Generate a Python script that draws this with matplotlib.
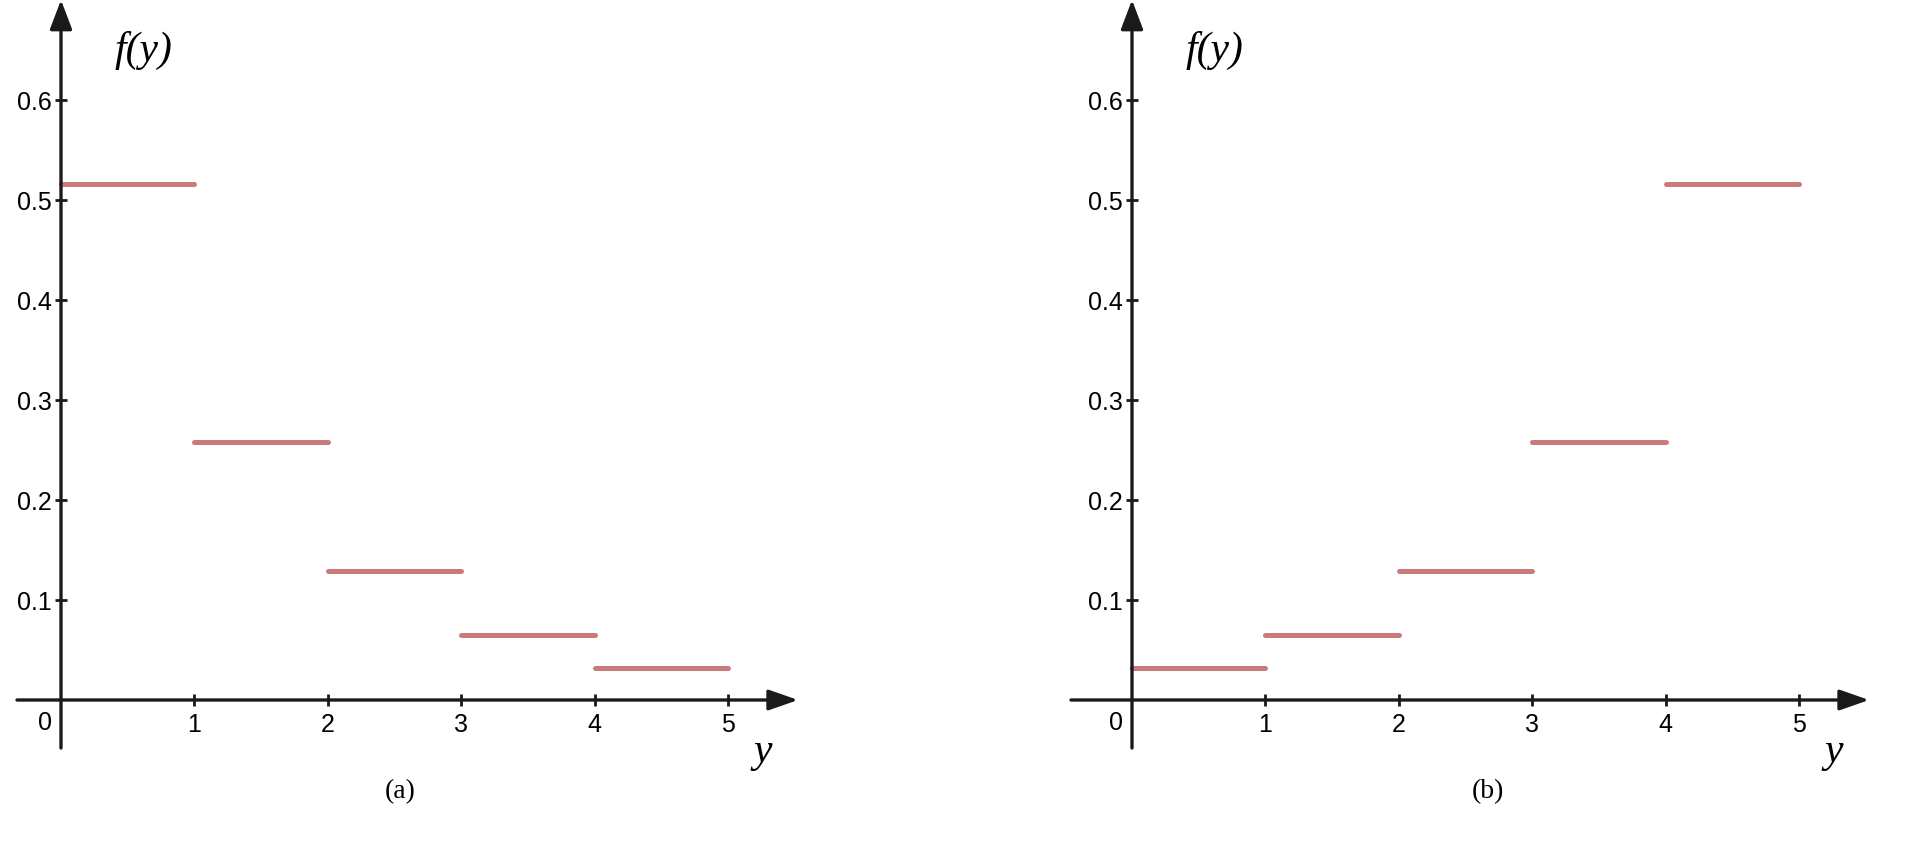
import matplotlib.pyplot as plt

# datos: densidad escalonada en cada intervalo [k, k+1)
x_inicio = [0, 1, 2, 3, 4]
x_fin = [1, 2, 3, 4, 5]
f_a = [16/31, 8/31, 4/31, 2/31, 1/31]
f_b = [1/31, 2/31, 4/31, 8/31, 16/31]
yticks = [0.1, 0.2, 0.3, 0.4, 0.5, 0.6]
xticks = [1, 2, 3, 4, 5]
paneles = ['(a)', '(b)']

W, H = 1909, 844
fig = plt.figure(figsize=(W / 100, H / 100), dpi=100)

rojo = '#c97b7b'
negro = '#1a1a1a'
px_x = 133.4   # pixeles por unidad en x
px_y = 1000.0  # pixeles por unidad en y


def panel(x0, ys, etiqueta, cap_x, izq):
    # x0: pixel del eje vertical, eje horizontal en y=700 px desde arriba
    xmin, xmax = -0.5, 5.7
    ymin, ymax = -0.06, 0.70
    left = x0 + xmin * px_x
    right = x0 + xmax * px_x
    top = 700 - ymax * px_y
    bottom = 700 - ymin * px_y
    ax = fig.add_axes([left / W, (H - bottom) / H, (right - left) / W, (bottom - top) / H])
    ax.set_xlim(xmin, xmax)
    ax.set_ylim(ymin, ymax)
    ax.patch.set_alpha(0)

    for s in ['top', 'right']:
        ax.spines[s].set_visible(False)
    for s in ['left', 'bottom']:
        ax.spines[s].set_position(('data', 0))
        ax.spines[s].set_visible(False)

    # ejes con flecha
    ax.annotate('', xy=(5.525, 0), xytext=(-izq / px_x, 0),
                arrowprops=dict(arrowstyle='-|>,head_length=1.0,head_width=0.35',
                                mutation_scale=18, lw=2.4, color=negro,
                                shrinkA=0, shrinkB=0))
    ax.annotate('', xy=(0, 0.70), xytext=(0, -0.048),
                arrowprops=dict(arrowstyle='-|>,head_length=1.0,head_width=0.38',
                                mutation_scale=18, lw=2.4, color=negro,
                                shrinkA=0, shrinkB=0))

    # segmentos
    for a, b, v in zip(x_inicio, x_fin, ys):
        ax.plot([a, b], [v, v], color=rojo, lw=3.6, solid_capstyle='round')

    ax.set_xticks(xticks)
    ax.set_xticklabels([str(t) for t in xticks],
                       family=['Liberation Sans', 'DejaVu Sans'], fontsize=18)
    ax.set_yticks(yticks)
    ax.set_yticklabels([f'{t:.1f}' for t in yticks],
                       family=['Liberation Sans', 'DejaVu Sans'], fontsize=18)
    ax.tick_params(axis='both', direction='inout', length=9, width=2, color=negro)
    ax.tick_params(axis='x', pad=5)
    ax.tick_params(axis='y', pad=2)

    ax.text(-16 / px_x, -23 / px_y, '0', ha='center', va='center',
            family=['Liberation Sans', 'DejaVu Sans'], fontsize=18)
    ax.text(0.62, 0.65, 'f(y)', ha='center', va='center',
            family='Liberation Serif', style='italic', fontsize=30)
    ax.text(5.26, -0.052, 'y', ha='center', va='center',
            family='Liberation Serif', style='italic', fontsize=30)
    fig.text(cap_x / W, 1 - 792 / H, etiqueta, ha='center', va='center',
             family='Liberation Serif', fontsize=20)
    return ax


panel(61, f_a, paneles[0], 400, 44)
panel(1132, f_b, paneles[1], 1488, 61)

fig.savefig('out.png', dpi=100)
